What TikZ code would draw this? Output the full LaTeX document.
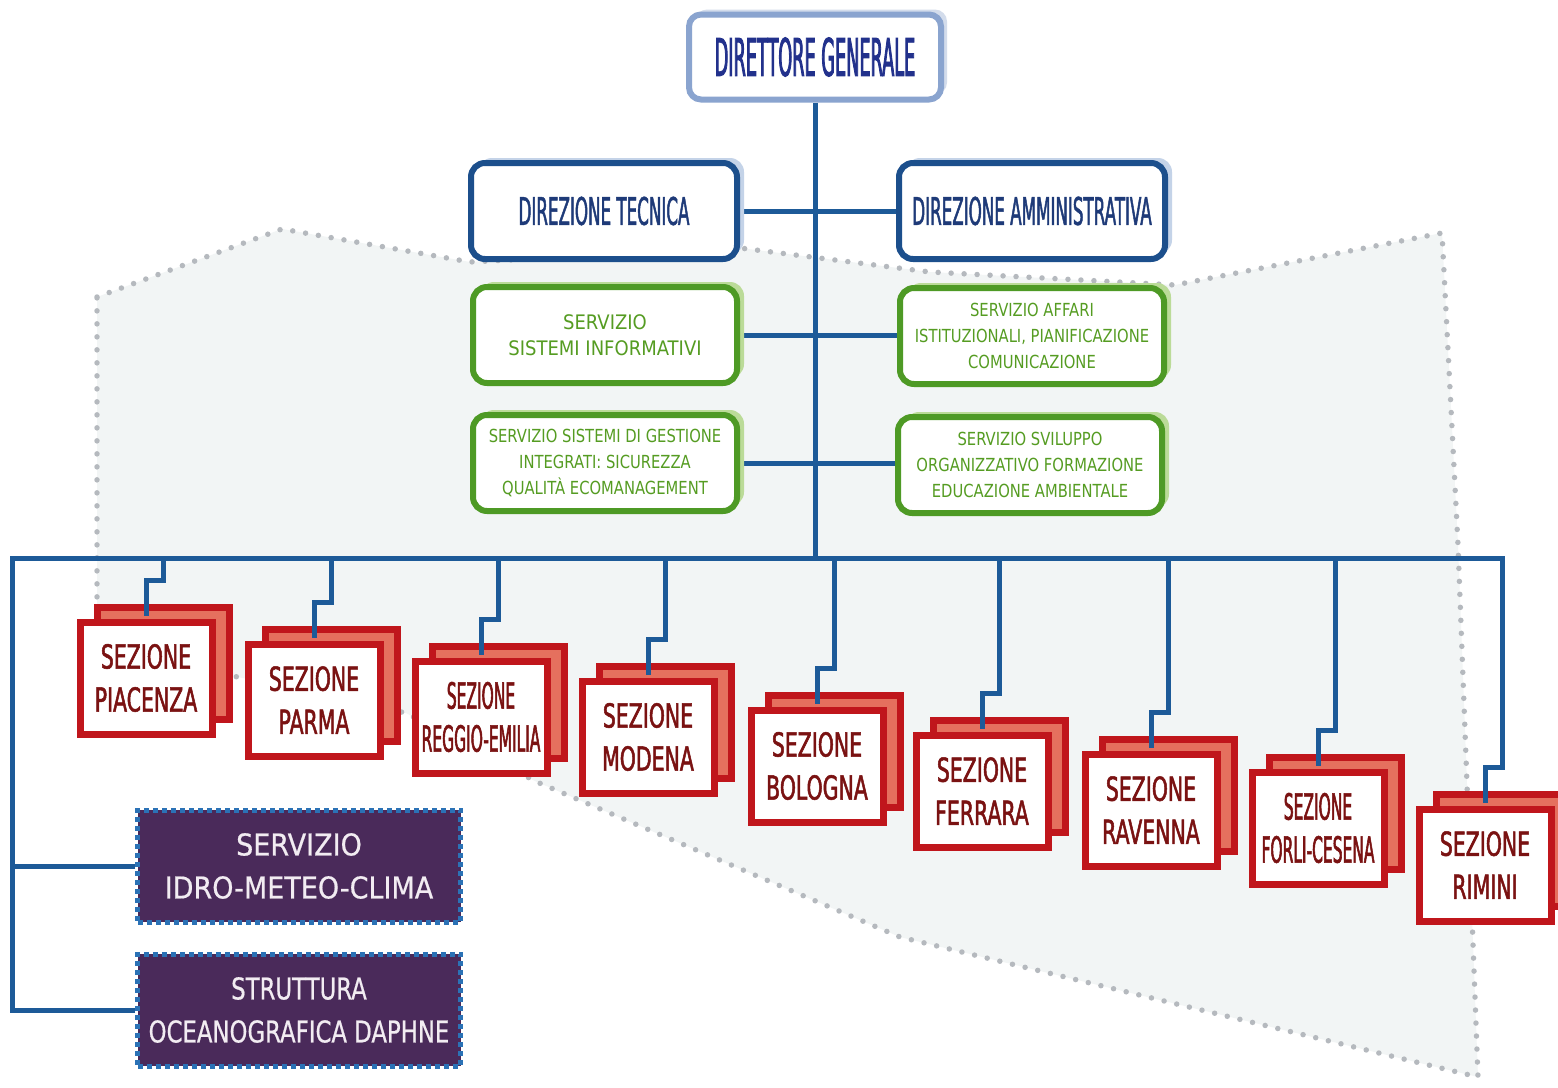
\documentclass[tikz,border=0pt]{standalone}
\usepackage{fontspec}
\setmainfont{DejaVu Sans}
\newfontfamily\fDG[FakeStretch=0.34,FakeBold=1.5]{DejaVu Sans}
\newfontfamily\fDZ[FakeStretch=0.44,FakeBold=1.2]{DejaVu Sans}
\newfontfamily\fGR[FakeStretch=0.82]{DejaVu Sans}
\newfontfamily\fGRB[FakeStretch=0.9]{DejaVu Sans}
\newfontfamily\fSZ[FakeStretch=0.62,FakeBold=1.5]{DejaVu Sans}
\newfontfamily\fSZC[FakeStretch=0.43,FakeBold=1.5]{DejaVu Sans}
\newfontfamily\fPA[FakeStretch=0.9,FakeBold=0.6]{DejaVu Sans}
\newfontfamily\fPB[FakeStretch=0.76,FakeBold=0.6]{DejaVu Sans}
\usetikzlibrary{shadows,backgrounds}
\definecolor{conn}{HTML}{1D5A98}
\definecolor{dgborder}{HTML}{8AA4CF}
\definecolor{dgshadow}{HTML}{D3DCEB}
\definecolor{dgtext}{HTML}{22318C}
\definecolor{dzborder}{HTML}{1C4F8C}
\definecolor{dzshadow}{HTML}{C4D3E8}
\definecolor{dztext}{HTML}{1E3A78}
\definecolor{grborder}{HTML}{4E9A25}
\definecolor{grshadow}{HTML}{BBDB98}
\definecolor{grtext}{HTML}{559C22}
\definecolor{sred}{HTML}{C0161C}
\definecolor{ssalmon}{HTML}{E5705E}
\definecolor{stext}{HTML}{7A1212}
\definecolor{pfill}{HTML}{4A2A5A}
\definecolor{pborder}{HTML}{2B72B6}
\definecolor{ptext}{HTML}{F2ECF2}
\definecolor{bgfill}{HTML}{F2F5F5}
\definecolor{bgdot}{HTML}{B5B9BE}
\tikzset{
  connector/.style={draw=conn, line width=5pt},
  dgbox/.style={draw=dgborder, line width=6pt, rounded corners=12pt, fill=white, text=dgtext,
    font=\fDG\fontsize{52}{54}\selectfont, minimum width=252pt, minimum height=85pt, inner sep=0pt,
    drop shadow={shadow xshift=6pt, shadow yshift=5pt, fill=dgshadow, opacity=1}},
  dzbox/.style={draw=dzborder, line width=6pt, rounded corners=14pt, fill=white, text=dztext,
    font=\fDZ\fontsize{38}{40}\selectfont, minimum width=266pt, minimum height=96pt, inner sep=0pt,
    drop shadow={shadow xshift=7pt, shadow yshift=5pt, fill=dzshadow, opacity=1}},
  grbox/.style={draw=grborder, line width=6pt, rounded corners=14pt, fill=white, text=grtext,
    font=\fGR\fontsize{18}{26}\selectfont, align=center, minimum width=264pt, minimum height=96pt, inner sep=0pt,
    drop shadow={shadow xshift=7pt, shadow yshift=5pt, fill=grshadow, opacity=1}},
  szbox/.style={draw=sred, line width=7pt, fill=white, text=stext,
    font=\fSZ\fontsize{33}{43}\selectfont, align=center, minimum width=132pt, minimum height=112pt, inner sep=0pt,
    copy shadow={shadow xshift=17pt, shadow yshift=15pt, fill=ssalmon, draw=sred, line width=7pt}},
  szcond/.style={font=\fSZC\fontsize{36}{43}\selectfont},
  pubox/.style={draw=pborder, line width=5pt, dash pattern=on 5pt off 4pt, fill=pfill, text=ptext,
    font=\fPA\fontsize{30}{43}\selectfont, align=center, minimum width=323pt, minimum height=112pt, inner sep=0pt},
  bgzone/.style={fill=bgfill, draw=bgdot, line width=5.5pt, dash pattern=on 0pt off 13pt, line cap=round},
}
\begin{document}
\begin{tikzpicture}[x=1pt,y=-1pt]
\useasboundingbox (0,0) rectangle (1558,1087);
% top
\node[dgbox] (dg) at (815,57) {DIRETTORE GENERALE};
\node[dzbox] (dt) at (604,211) {DIREZIONE TECNICA};
\node[dzbox] (da) at (1032,211) {DIREZIONE AMMINISTRATIVA};
\node[grbox, font=\fGRB\fontsize{20}{26}\selectfont] (g1) at (605,335) {SERVIZIO\\SISTEMI INFORMATIVI};
\node[grbox] (g2) at (1032,336) {SERVIZIO AFFARI\\ISTITUZIONALI, PIANIFICAZIONE\\COMUNICAZIONE};
\node[grbox] (g3) at (605,463) {SERVIZIO SISTEMI DI GESTIONE\\INTEGRATI: SICUREZZA\\QUALITÀ ECOMANAGEMENT};
\node[grbox] (g4) at (1030,465) {SERVIZIO SVILUPPO\\ORGANIZZATIVO FORMAZIONE\\EDUCAZIONE AMBIENTALE};
% sezioni
\node[szbox] (s1) at (146,678) {SEZIONE\\PIACENZA};
\node[szbox] (s2) at (314,700) {SEZIONE\\PARMA};
\node[szbox, szcond] (s3) at (481,717) {SEZIONE\\REGGIO-EMILIA};
\node[szbox] (s4) at (648,737) {SEZIONE\\MODENA};
\node[szbox] (s5) at (817,766) {SEZIONE\\BOLOGNA};
\node[szbox] (s6) at (982,791) {SEZIONE\\FERRARA};
\node[szbox] (s7) at (1151,810) {SEZIONE\\RAVENNA};
\node[szbox, szcond] (s8) at (1318,828) {SEZIONE\\FORLI-CESENA};
\node[szbox] (s9) at (1485,865) {SEZIONE\\RIMINI};
% servizi
\node[pubox] (p1) at (299,866) {SERVIZIO\\IDRO-METEO-CLIMA};
\node[pubox, font=\fPB\fontsize{30}{43}\selectfont] (p2) at (299,1010) {STRUTTURA\\OCEANOGRAFICA DAPHNE};
\coordinate (bL) at (12,558);
\coordinate (bR) at (1503,558);
\begin{scope}[on background layer]
  \fill[white] (0,0) rectangle (1558,1087);
  \draw[bgzone] (97,297) -- (282,229) -- (470,262) -- (740,248) -- (930,272) -- (1175,285)
    -- (1442,233) -- (1458,545) -- (1478,1077) -- (900,937) -- (537,782) -- (406,713)
    -- (243,678) -- (97,650) -- cycle;
  \draw[connector] (dg.south) -- (dg.south |- bL);
  \draw[connector] (dt.east) -- (da.west);
  \draw[connector] (g1.east) -- (g1.east -| g2.west);
  \draw[connector] (g3.east) -- (g3.east -| g4.west);
  \draw[connector] (p2.west) -| (bL) -- (bR);
  \draw[connector] (p1.west) -- (p1.west -| bL);
\end{scope}
\foreach \s in {s1,s2,s3,s4,s5,s6,s7,s8,s9}
  \draw[connector] ([yshift=3pt]\s.north) -- ++(0,-35) -- ++(17,0) |- (bL);
\end{tikzpicture}
\end{document}
